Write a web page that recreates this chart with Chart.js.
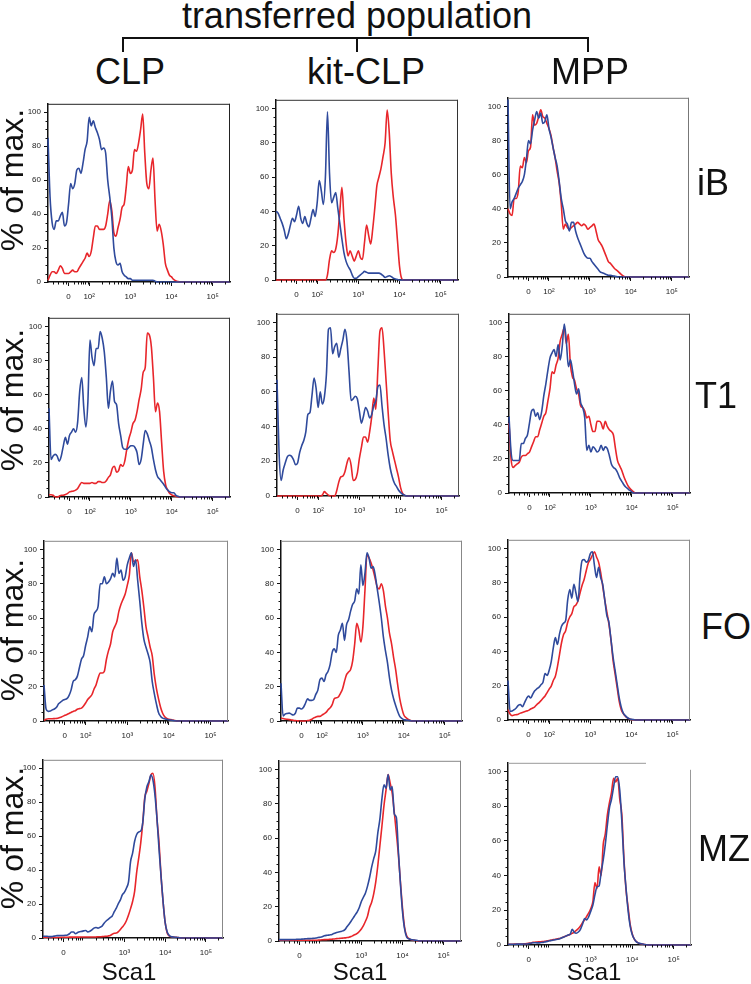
<!DOCTYPE html>
<html>
<head>
<meta charset="utf-8">
<script src="https://cdn.jsdelivr.net/npm/chart.js@4.4.0/dist/chart.umd.min.js"></script>
<style>
  body { margin: 0; background: #fff; }
  #fig { position: relative; width: 751px; height: 984px; overflow: hidden;
         font-family: "Liberation Sans", Arial, sans-serif; color: #111; }
  #fig canvas { position: absolute; }
  .txt { position: absolute; white-space: nowrap; line-height: 1; transform: translate(-50%, -50%); }
  .rot { transform: translate(-50%, -50%) rotate(-90deg); }
  .ln { position: absolute; background: #111; }
</style>
</head>
<body>
<div id="fig"></div>
<script>
// channel positions on the display axis (1.5 = "0", 2 = 10^2, 3 = 10^3 ...)
const chan = [
  1.00, 1.05, 1.10, 1.15, 1.20, 1.25, 1.30, 1.35, 1.40, 1.45,
  1.50, 1.55, 1.60, 1.65, 1.70, 1.75, 1.80, 1.85, 1.90, 1.95,
  2.00, 2.05, 2.10, 2.15, 2.20, 2.25, 2.30, 2.35, 2.40, 2.45,
  2.50, 2.55, 2.60, 2.65, 2.70, 2.75, 2.80, 2.85, 2.90, 2.95,
  3.00, 3.05, 3.10, 3.15, 3.20, 3.25, 3.30, 3.35, 3.40, 3.45,
  3.50, 3.55, 3.60, 3.65, 3.70, 3.75, 3.80, 3.85, 3.90, 3.95,
  4.00, 4.05, 4.10, 4.15, 4.20, 4.25, 4.30, 4.35, 4.40,
  5.42
];

const xTickPos = [1.5, 2, 3, 4, 5];
const xTickText = ["0", "10²", "10³", "10⁴", "10⁵"];
const xTickPosMz = [1.5, 3, 4, 5];
const yTickPos = [0, 20, 40, 60, 80, 100];

const columns = ["CLP", "kit-CLP", "MPP"];
const rows = ["iB", "T1", "FO", "MZ"];

// % of max., blue and red histograms
const clpIbBlue = [85, 50, 35, 31, 36, 36, 39, 41, 33, 35,
  46, 58, 55, 58, 66, 67, 64, 70, 78, 83,
  97, 92, 95, 91, 88, 84, 78, 79, 76, 60,
  50, 38, 20, 12, 10, 11, 6, 4, 3, 2,
  2, 1, 1, 1, 1, 1, 1, 1, 1, 1,
  1, 1, 0.5, 0, 0, 0, 0, 0, 0, 0,
  0, 0, 0, 0, 0, 0, 0, 0, 0, 0];
const clpIbRed = [1, 4, 6, 6, 5, 7, 9.5, 8, 5, 5,
  5, 6, 7, 6, 6, 8, 10, 12, 14, 17,
  15, 18, 26, 33, 33, 31, 31, 31, 33, 40,
  48, 42, 29, 27, 32, 37, 44, 46, 56, 68,
  64, 66, 78, 77, 82, 90, 99, 76, 58, 55,
  66, 73, 48, 30, 34, 30, 22, 11, 7, 4,
  3, 1.5, 0.8, 0.3, 0, 0, 0, 0, 0, 0];

const kitIbBlue = [40, 39, 36, 33, 29, 24, 27, 32, 36, 34,
  38, 43, 36, 33, 37, 33, 31, 36, 41, 37,
  45, 58, 52, 44, 60, 98, 62, 45, 48, 51,
  42, 33, 24, 16, 11, 8, 6, 3, 1, 1,
  2, 3, 4, 5, 4.5, 4, 4, 4, 4, 4,
  4, 3.5, 2.5, 1.5, 2, 2.5, 2, 1, 0.6, 0.3,
  0, 0, 0, 0, 0, 0, 0, 0, 0, 0];
const kitIbRed = [0, 0, 0, 0, 0, 0, 0, 0, 0, 0,
  0, 0, 0, 0, 0, 0, 0, 0, 0, 0,
  0, 0, 0, 0, 0, 3, 12, 17, 16, 18,
  26, 40, 54, 36, 22, 14, 17, 14, 11, 14,
  17, 13, 12, 22, 32, 26, 21, 30, 42, 55,
  60, 65, 72, 80, 99, 86, 62, 48, 38, 23,
  8, 1, 0, 0, 0, 0, 0, 0, 0, 0];

const mppIbBlue = [104, 40, 44, 46, 49, 52, 54, 56, 60, 69,
  80, 78, 86, 92, 97, 93, 96, 90, 91, 95,
  87, 82, 76, 70, 65, 56, 46, 40, 33, 31,
  27, 32, 32, 27, 23, 20, 17, 14, 12, 11,
  11, 9, 7.5, 6, 4.5, 3, 2.5, 2, 1.5, 1,
  1, 0.7, 0.5, 0.3, 0, 0, 0, 0, 0, 0,
  0, 0, 0, 0, 0, 0, 0, 0, 0, 0];
const mppIbRed = [40, 37, 36, 46, 46, 50, 65, 64, 70, 67,
  74, 76, 95, 89, 90, 94, 98, 94, 93, 90,
  87, 83, 76, 70, 62, 55, 43, 28, 31, 29,
  28, 29, 30, 31, 32, 31, 30, 31, 30, 28,
  29, 30, 31, 27, 22, 20, 18, 15, 12, 9,
  8, 6.5, 5, 4, 3, 1.8, 0.8, 0.2, 0, 0,
  0, 0, 0, 0, 0, 0, 0, 0, 0, 0];

const clpT1Blue = [52, 22, 24, 25, 24, 21, 24, 30, 35, 31,
  36, 38, 40, 38, 44, 62, 70, 52, 41, 56,
  92, 82, 77, 87, 87, 97, 93, 85, 70, 52,
  62, 68, 56, 54, 43, 36, 29, 28, 28, 29,
  30, 30, 29, 26, 19, 22, 31, 39, 37, 33,
  29, 22, 16, 12, 10.5, 9, 7.5, 5.5, 4, 3,
  2.5, 2.5, 1, 0.4, 0, 0, 0, 0, 0, 0];
const clpT1Red = [1.3, 1.3, 1, 0, 0, 0.5, 1, 1, 1.5, 2,
  3, 3.3, 3.5, 4, 5, 7, 8.5, 8, 8, 8,
  8, 8.5, 8, 8, 9, 9, 8.5, 8.5, 9.5, 11.5,
  13, 17, 18, 14.5, 15.5, 19, 18, 21, 28, 34,
  38, 43, 45, 50, 57, 63, 73, 76, 96, 95,
  88, 70, 50, 55, 50, 32, 15, 7, 4, 2,
  1.2, 0.8, 0.4, 0, 0, 0, 0, 0, 0, 0];

const kitT1Blue = [67, 25, 9, 15, 19, 22.5, 23.5, 23, 21, 18,
  19, 25, 29, 32, 37, 47, 48, 58, 68, 62,
  51, 60, 53, 57, 70, 96, 97, 82, 86, 88,
  80, 85, 90, 96, 89, 71.5, 55, 56, 57.5, 56,
  49, 42, 46, 51, 49, 45, 47, 52, 55, 63,
  64, 52, 41, 33, 23.5, 16, 11, 7.5, 5.5, 3.5,
  2, 1, 0.4, 0, 0, 0, 0, 0, 0, 0];
const kitT1Red = [0, 0, 0, 0, 0, 0, 0, 0, 0, 0,
  0, 0, 0, 0, 0, 0, 0, 0, 0, 0,
  0, 0, 0.5, 2.5, 1.5, 0.5, 0, 0, 0, 3,
  8, 11, 11.5, 14, 19, 22, 17.7, 9, 9.5, 13,
  21.5, 28, 34, 34, 31, 37, 45.6, 56.5, 50, 73,
  95, 97, 84, 66, 48, 32, 26, 21, 16, 11,
  5, 1.5, 0.4, 0, 0, 0, 0, 0, 0, 0];

const mppT1Blue = [45, 24, 19, 19, 19, 19, 29, 29, 32, 34,
  41, 48, 49, 45, 47, 43, 48, 57, 64, 72,
  79, 82, 84, 80, 87, 78, 86, 99, 89, 74,
  78, 72, 64, 58, 61, 53, 50, 44, 25, 28,
  24, 27, 26, 24, 25, 28, 25, 27, 26, 22,
  17, 15, 14, 12, 9, 7, 5, 3.5, 2.5, 1.5,
  0.7, 0, 0, 0, 0, 0, 0, 0, 0, 0];
const mppT1Red = [41, 20, 15, 16, 17, 18, 21, 22, 22, 23,
  24, 27, 30, 33, 33, 37, 41, 45, 47, 54,
  61, 71, 70, 75, 79, 89, 93, 97, 87.5, 93,
  75, 68, 66, 61, 58, 51, 50, 48, 44, 45,
  40, 36, 36, 42, 42, 41, 37.5, 42, 39, 37,
  36, 34, 26, 19, 16, 13.5, 10, 7, 4.5, 2.8,
  1.5, 0.5, 0, 0, 0, 0, 0, 0, 0, 0];

const clpFoBlue = [21, 7, 5.6, 5.8, 6.5, 7, 8, 10, 11, 12,
  12.5, 13, 14.8, 18, 23, 24, 26, 31, 36, 38,
  44, 49, 55, 52, 62, 64, 67, 80, 80, 84,
  80, 81, 83, 86, 84, 95, 86, 88, 82, 84,
  91, 95, 98, 90, 94, 82, 70, 57, 47.5, 43,
  39, 34, 23, 16, 10, 5, 2.8, 1.7, 1.3, 1,
  0.7, 0.5, 0.3, 0.1, 0, 0, 0, 0, 0, 0];
const clpFoRed = [0.4, 1, 1.3, 1.3, 1.3, 1.4, 1.5, 1.7, 2.2, 2.7,
  3.3, 3.8, 4.4, 5, 5.6, 6, 6.8, 7.2, 7.5, 8.7,
  10.5, 12.5, 13.8, 15.3, 18.5, 21, 25, 28, 28, 29,
  36, 41, 45, 52, 55, 58, 64, 68, 71, 74,
  79, 85, 98, 93, 93, 94, 84, 76, 66, 55,
  49, 43, 38, 27, 19, 13, 8, 4.5, 2.5, 1.5,
  1, 0.8, 0.5, 0.2, 0, 0, 0, 0, 0, 0];

const kitFoBlue = [22, 3, 4, 4.4, 4.6, 4, 3.5, 4.5, 7.5, 7.5,
  7, 8, 10.5, 12.9, 12, 12, 12.5, 15.5, 18, 24,
  25, 23, 27, 29, 33, 40, 42, 40, 50, 53,
  57, 47, 56, 59, 64, 68, 70, 77, 74, 91,
  79, 86, 98, 95, 89, 90, 85, 77, 69, 60,
  49, 41, 34, 25, 18, 13, 9, 5.5, 2.7, 1.5,
  0.8, 0.6, 0.4, 0.2, 0, 0, 0, 0, 0, 0];
const kitFoRed = [1.7, 1.5, 1.2, 1, 0.8, 0.6, 0.4, 0.2, 0.1, 0,
  0, 0, 0, 0.2, 0.4, 1, 1.8, 2.4, 2.7, 2.7,
  3.4, 4.2, 5, 6.5, 7.7, 9.5, 13, 13.5, 14, 16,
  18.5, 23, 27, 28.5, 30, 35, 45, 57, 53, 46,
  55, 76, 97, 95, 92, 88, 83, 78, 77, 80,
  76, 67, 60, 51, 45, 37, 30, 21, 13, 7.5,
  3.5, 2, 1, 0.4, 0, 0, 0, 0, 0, 0];

const mppFoBlue = [23, 5, 5.2, 6, 7, 8.5, 9, 7.7, 10, 12.5,
  14, 12.8, 15, 17, 18.2, 19, 20.5, 22, 27, 26,
  29, 34, 42, 48, 44, 50, 54.6, 56.5, 58, 70,
  76, 71, 79, 74, 69, 84, 93, 93.5, 92, 93,
  97, 98, 90, 83, 89, 83, 79, 70, 61, 57,
  47, 37, 29, 21, 13, 7.5, 4, 2.5, 1.3, 0.8,
  0.4, 0.2, 0, 0, 0, 0, 0, 0, 0, 0];
const mppFoRed = [6, 3.5, 2.5, 2.9, 3.1, 3.4, 4, 4.4, 4.8, 5.2,
  5.6, 6.4, 7, 7.7, 9, 10, 11.3, 12.7, 14, 16,
  18, 19.7, 23, 25.5, 31, 38, 45, 49.8, 52, 57,
  60, 62, 66, 67, 69.5, 74, 78.5, 82, 87, 91.5,
  93.5, 96, 98, 95, 92, 86, 78, 70, 63, 56,
  47, 35, 27, 19, 11, 6, 3.8, 2.2, 1.2, 0.6,
  0.3, 0.1, 0, 0, 0, 0, 0, 0, 0, 0];

const clpMzBlue = [1, 1, 1, 0.8, 0.8, 1, 1.2, 1.4, 1.4, 1.5,
  1.5, 1.6, 1.8, 2.5, 3.5, 3.5, 2.5, 3.2, 3.7, 3.9,
  4.2, 4.4, 3.6, 4, 4.8, 5.8, 6.2, 5.8, 6.3, 7,
  8.7, 10, 11, 12, 13, 15.5, 17.6, 20.3, 22.5, 25.5,
  27, 29.5, 33, 45, 50, 57, 61, 62.5, 63, 68,
  82, 89, 92, 96, 93, 84, 70, 52, 36, 21,
  9, 3.5, 1.5, 0.8, 0.6, 0.4, 0.3, 0.1, 0, 0];
const clpMzRed = [0.4, 0.4, 0.3, 0.3, 0.3, 0.3, 0.3, 0.3, 0.3, 0.4,
  0.4, 0.4, 0.4, 0.5, 0.5, 0.5, 0.5, 0.5, 0.5, 0.6,
  0.6, 0.6, 0.6, 0.6, 0.6, 0.6, 0.6, 0.7, 0.7, 0.8,
  0.9, 1, 1.2, 1.5, 2.2, 2.8, 2.9, 3.7, 5, 6.5,
  8, 10.3, 13.5, 17.3, 21.5, 27.5, 38.7, 47, 56, 68,
  83, 86.5, 91, 96, 97, 89, 70, 56, 36, 21,
  9, 3, 1.2, 0.7, 0.5, 0.4, 0.3, 0.1, 0, 0];

const kitMzBlue = [0.8, 0.8, 0.8, 0.8, 0.8, 0.8, 0.9, 0.9, 0.9, 1,
  1, 1.1, 1.2, 1.3, 1.4, 1.4, 1.5, 1.6, 1.7, 2,
  2.2, 2.5, 3, 3.3, 3.4, 3.6, 4, 4.5, 5, 5.2,
  5.5, 5.9, 6.6, 8.3, 9.8, 11.5, 13.3, 15.2, 17, 19.5,
  23, 25.5, 28, 32, 37, 43, 48, 52.5, 63, 71,
  83, 91, 89, 97, 88, 90, 74, 72, 52, 33,
  17, 7, 2.3, 1.3, 0.9, 0.7, 0.5, 0.4, 0, 0];
const kitMzRed = [0.4, 0.4, 0.4, 0.4, 0.4, 0.4, 0.4, 0.4, 0.4, 0.4,
  0.4, 0.4, 0.4, 0.4, 0.4, 0.4, 0.4, 0.4, 0.4, 0.5,
  0.6, 0.7, 0.8, 0.8, 0.9, 1, 1.1, 1.2, 1.4, 1.5,
  1.6, 1.7, 1.8, 2, 2.2, 2.6, 3.2, 3.8, 4.4, 5.5,
  7, 9, 11.5, 14.5, 19.5, 22.6, 27.5, 34.5, 44, 55.5,
  67, 79, 88, 97, 92, 86, 75, 63, 50, 34,
  19, 8, 3, 1.5, 0.8, 0.5, 0.3, 0.1, 0, 0];

const mppMzBlue = [0.4, 0.4, 0.4, 0.4, 0.5, 0.5, 0.5, 0.5, 0.6, 0.6,
  0.8, 1, 1.3, 1.3, 1.2, 1.2, 1.4, 1.5, 1.8, 2.1,
  2.4, 2.6, 2.9, 3.1, 3.3, 3.6, 4.2, 4.6, 5.2, 5.8,
  6.1, 9, 7.3, 6.8, 7.5, 9, 12, 15.3, 14.5, 16.3,
  19.5, 23, 29, 33.5, 34, 42, 49, 58, 69, 79,
  84, 91, 97, 97, 89, 71, 48, 33, 20, 11,
  6, 3.5, 1.8, 1.2, 0.8, 0.6, 0.3, 0.1, 0, 0];
const mppMzRed = [0.4, 0.4, 0.4, 0.5, 0.5, 0.5, 0.6, 0.6, 0.7, 0.8,
  1, 1.2, 1.5, 1.6, 1.7, 1.8, 1.9, 2, 2.2, 2.4,
  2.6, 2.8, 3.1, 3.3, 3.6, 3.8, 4.2, 4.7, 5.2, 5.6,
  6.2, 6.7, 7.5, 8.4, 9.5, 11, 12.8, 14.5, 16.5, 18.5,
  21, 25, 36, 32.5, 45, 40, 58, 64, 75, 82,
  88, 96, 94, 96, 84, 75, 50, 32, 22, 12,
  6.5, 3.4, 2, 1.1, 0.7, 0.5, 0.3, 0.1, 0, 0];

// panel frames in page pixels: left, top, right, zero line
const panels = [
  { box: [48, 102, 230, 282], blue: clpIbBlue, red: clpIbRed, frame: "#222" },
  { box: [276, 98, 458, 280], blue: kitIbBlue, red: kitIbRed, frame: "#333" },
  { box: [508, 96, 689, 277], blue: mppIbBlue, red: mppIbRed, frame: "#777" },
  { box: [49, 316, 230, 497], blue: clpT1Blue, red: clpT1Red, frame: "#333" },
  { box: [277, 312, 459, 496], blue: kitT1Blue, red: kitT1Red, frame: "#555" },
  { box: [509, 312, 690, 493], blue: mppT1Blue, red: mppT1Red, frame: "#555" },
  { box: [44, 539, 228, 721], blue: clpFoBlue, red: clpFoRed, frame: "#888" },
  { box: [281, 539, 462, 721], blue: kitFoBlue, red: kitFoRed, frame: "#888" },
  { box: [508, 538, 690, 720], blue: mppFoBlue, red: mppFoRed, frame: "#888" },
  { box: [43, 758, 223, 938], blue: clpMzBlue, red: clpMzRed, frame: "#888", mz: true },
  { box: [279, 759, 461, 941], blue: kitMzBlue, red: kitMzRed, frame: "#888", mz: true },
  { box: [508, 761, 691, 945], blue: mppMzBlue, red: mppMzRed, frame: "#999", mz: true, topTo: 138, rightFrom: 7 }
];

const BLUE = "#2f4a9c";
const RED = "#e8262b";
const PAD = { l: 32, t: 6, r: 8, b: 24 };
const minorX = [1.12, 1.25, 1.36, 1.44, 1.62, 1.72, 1.8, 1.86, 1.91, 1.96,
  2.30, 2.48, 2.60, 2.70, 2.78, 2.85, 2.90, 2.95,
  3.30, 3.48, 3.60, 3.70, 3.78, 3.85, 3.90, 3.95,
  4.30, 4.48, 4.60, 4.70, 4.78, 4.85, 4.90, 4.95, 5.30];

Chart.defaults.font.family = "'Liberation Sans', Arial, sans-serif";

const framePlugin = {
  id: "frame",
  afterDraw(chart, args, opts) {
    const { ctx, chartArea: a, scales: { x, y } } = chart;
    ctx.save();
    ctx.strokeStyle = opts.color;
    ctx.lineWidth = 1;
    ctx.beginPath();
    ctx.moveTo(a.left, a.top + 0.5);
    ctx.lineTo(opts.topTo ? a.left + opts.topTo : a.right, a.top + 0.5);
    ctx.moveTo(a.right - 0.5, a.top + (opts.rightFrom || 0));
    ctx.lineTo(a.right - 0.5, a.bottom);
    ctx.stroke();
    ctx.strokeStyle = "#111";
    ctx.beginPath();
    minorX.forEach(v => {
      const px = Math.round(x.getPixelForValue(v)) + 0.5;
      ctx.moveTo(px, a.bottom);
      ctx.lineTo(px, a.bottom + 2.5);
    });
    for (let v = 5; v < 105; v += 5) {
      if (v % 20 === 0) continue;
      const py = Math.round(y.getPixelForValue(v)) + 0.5;
      ctx.moveTo(a.left, py);
      ctx.lineTo(a.left - 2.5, py);
    }
    ctx.stroke();
    ctx.restore();
  }
};

const fig = document.getElementById("fig");

panels.forEach(p => {
  const [L, T, R, B] = p.box;
  const cv = document.createElement("canvas");
  cv.width = R - L + PAD.l + PAD.r;
  cv.height = B - T + PAD.t + PAD.b;
  cv.style.left = (L - PAD.l) + "px";
  cv.style.top = (T - PAD.t) + "px";
  fig.appendChild(cv);

  const ticksAt = p.mz ? xTickPosMz : xTickPos;
  const line = (vals, color) => ({
    data: chan.map((c, i) => ({ x: c, y: vals[i] })),
    borderColor: color,
    borderWidth: 1.6,
    pointRadius: 0,
    cubicInterpolationMode: "monotone",
    clip: { left: 2, top: 2, right: 0, bottom: 2 }
  });

  new Chart(cv, {
    type: "line",
    data: { datasets: [line(p.blue, BLUE), line(p.red, RED)] },
    options: {
      responsive: false,
      devicePixelRatio: 1,
      animation: false,
      events: [],
      layout: { padding: { left: 0, top: PAD.t, right: PAD.r, bottom: 0 } },
      plugins: {
        legend: { display: false },
        tooltip: { enabled: false },
        frame: { color: p.frame, topTo: p.topTo, rightFrom: p.rightFrom }
      },
      scales: {
        x: {
          type: "linear", min: 1.0, max: 5.42,
          afterBuildTicks: s => { s.ticks = ticksAt.map(v => ({ value: v })); },
          afterFit: s => { s.height = PAD.b; },
          ticks: {
            autoSkip: false, maxRotation: 0, padding: 6,
            font: { size: 8 }, color: "#222",
            callback: v => xTickText[xTickPos.indexOf(v)]
          },
          grid: { drawOnChartArea: false, drawTicks: true, tickLength: 4, color: "#111" },
          border: { color: "#111", width: 1.5 }
        },
        y: {
          min: 0, max: 105,
          afterBuildTicks: s => { s.ticks = yTickPos.map(v => ({ value: v })); },
          afterFit: s => { s.width = PAD.l; },
          ticks: { padding: 3, font: { size: 8 }, color: "#222" },
          grid: { drawOnChartArea: false, drawTicks: true, tickLength: 4, color: "#111" },
          border: { color: "#111", width: 1.5 }
        }
      }
    },
    plugins: [framePlugin]
  });
});

// text and bracket
function addText(str, x, y, size, cls) {
  const d = document.createElement("div");
  d.className = "txt" + (cls ? " " + cls : "");
  d.textContent = str;
  d.style.left = x + "px";
  d.style.top = y + "px";
  d.style.fontSize = size + "px";
  fig.appendChild(d);
}
function addLine(x, y, w, h) {
  const d = document.createElement("div");
  d.className = "ln";
  d.style.left = x + "px"; d.style.top = y + "px";
  d.style.width = w + "px"; d.style.height = h + "px";
  fig.appendChild(d);
}

addText("transferred population", 357, 16, 36);
addLine(123, 37, 466, 2);
addLine(122, 37, 2, 15);
addLine(356, 37, 2, 15);
addLine(587, 37, 2, 15);

const colX = [130, 366, 590];
columns.forEach((c, i) => addText(c, colX[i], 72, 36));

const rowY = [183, 396, 627, 849];
const rowX = [713, 716, 726, 724];
rows.forEach((r, i) => addText(r, rowX[i], rowY[i], 36));

const yLabY = [180, 400, 630, 838];
yLabY.forEach(y => addText("% of max.", 12, y, 32, "rot"));

const scaX = [129, 360, 594];
scaX.forEach(x => addText("Sca1", x, 972, 24));
</script>
</body>
</html>
